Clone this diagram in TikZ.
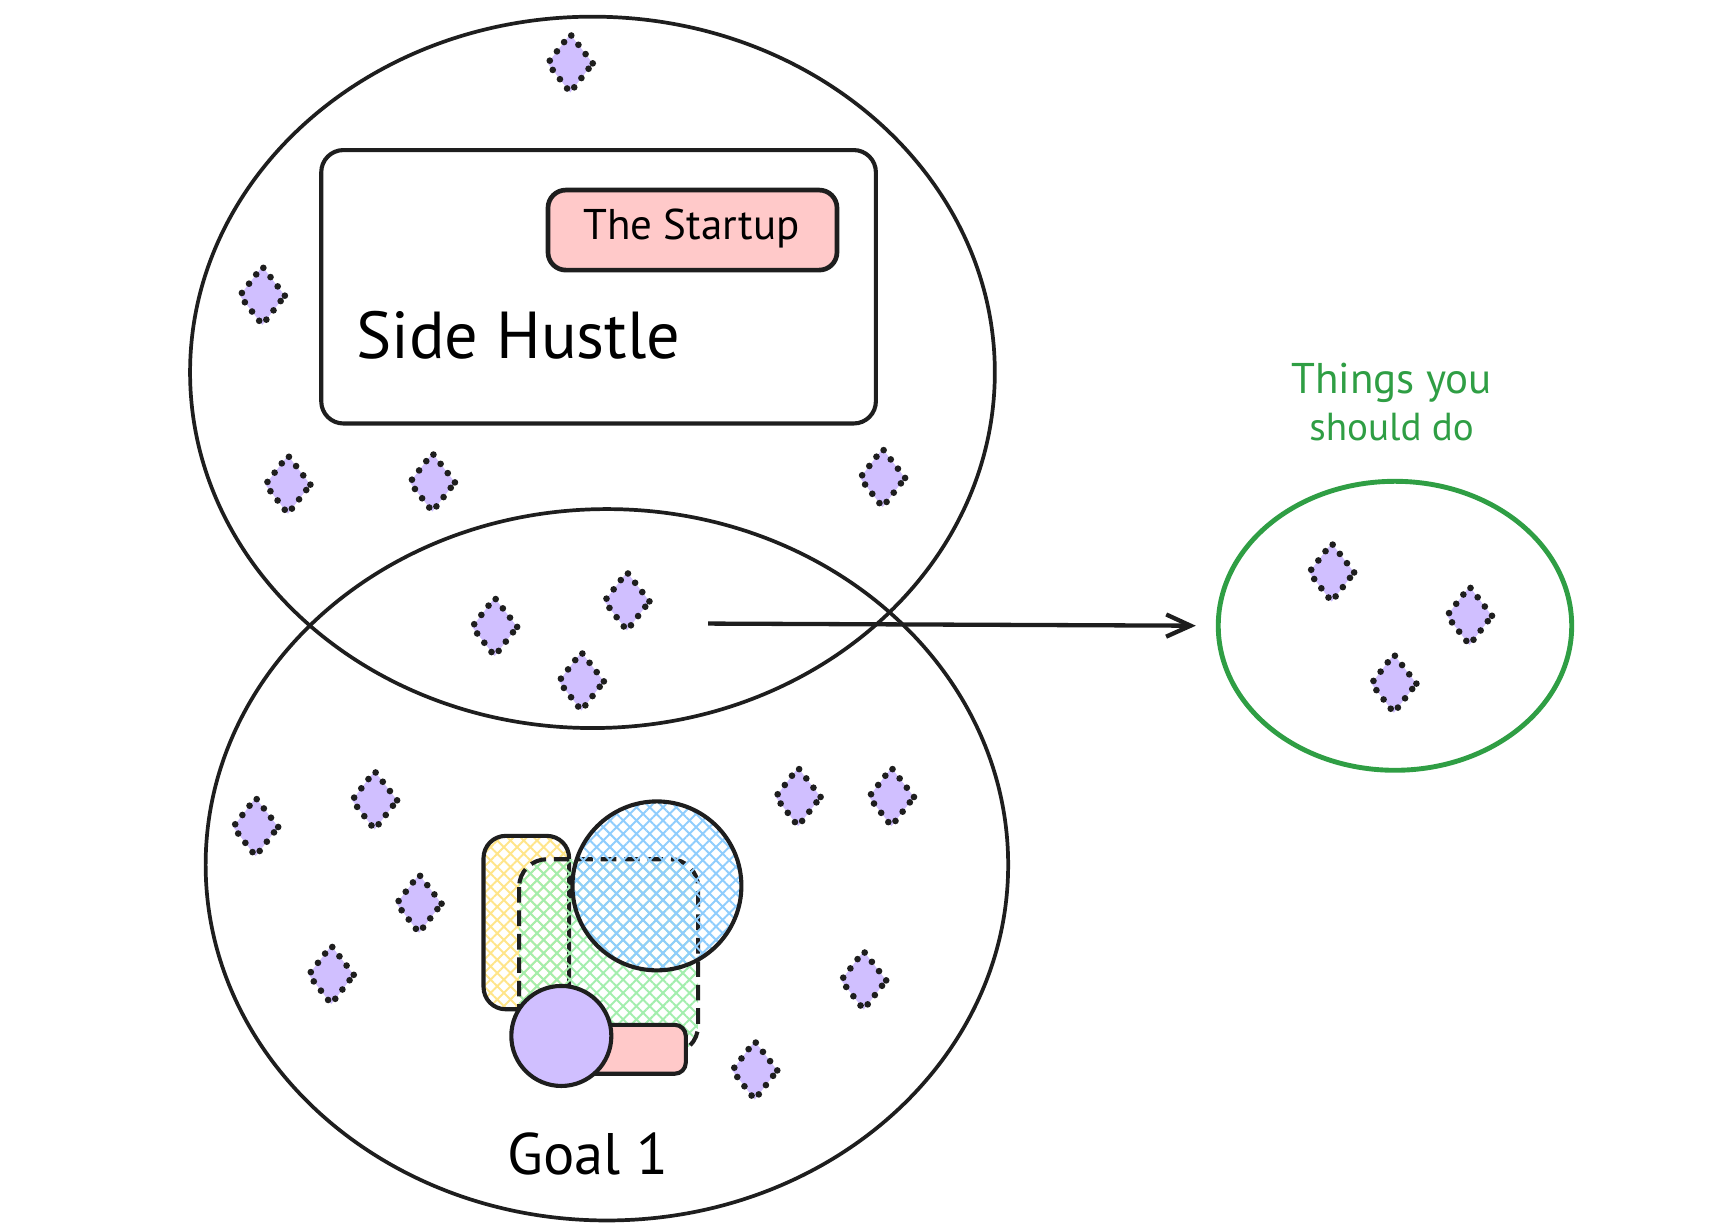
\documentclass[tikz,border=0pt]{standalone}
\usepackage{fontspec}
\setmainfont{PT Sans}
\usepackage{tikz}
\usetikzlibrary{calc}
\usetikzlibrary{shapes.geometric}
\usetikzlibrary{patterns.meta}
\usetikzlibrary{arrows.meta}

\definecolor{ink}{HTML}{1E1E1E}
\definecolor{lilac}{HTML}{D0BFFF}
\definecolor{blush}{HTML}{FFC9C9}
\definecolor{leaf}{HTML}{2F9E44}
\definecolor{butter}{HTML}{FFE58A}
\definecolor{mint}{HTML}{A3EEAE}
\definecolor{sky}{HTML}{8FCDFD}

\tikzset{
  task/.style={diamond,fill=lilac,draw=ink,line width=1.7pt,dash pattern=on 0pt off 3pt,line cap=round,
               minimum width=4.3mm,minimum height=5.5mm,inner sep=0pt},
  hatch/.style={pattern={Hatch[angle=45,distance=2.4pt,line width=0.5pt]},pattern color=#1}
}

\begin{document}
\begin{tikzpicture}[x=0.1mm,y=-0.1mm]
\useasboundingbox (0,0) rectangle (1560,1108);

\def\lw{0.95pt}
\def\lwbox{1.05pt}

% big circles
\draw[color=ink,line width=\lw] (533,335) ellipse (362 and 320);
\draw[color=ink,line width=\lw] (546,778) ellipse (361 and 320);

% side hustle box
\draw[color=ink,line width=\lwbox,rounded corners=2mm] (289,135) rectangle (788,381);
\draw[color=ink,fill=blush,line width=1.2pt,rounded corners=1.6mm] (493,171) rectangle (753,243);
\node (startup) at (622,206) {\fontsize{11}{13}\selectfont The Startup};
\node[anchor=west] (hustle) at (308,302) {\fontsize{17}{20}\selectfont Side Hustle};

% goal cluster
\draw[color=ink,line width=\lwbox,rounded corners=2mm,hatch=butter] (435,752) rectangle (512,908);
\draw[color=ink,line width=\lwbox,rounded corners=2.5mm,hatch=mint,dash pattern=on 4pt off 2pt] (467,773) rectangle (628,948);
\draw[color=ink,line width=\lwbox,hatch=sky] (591,797) circle (76);
\draw[color=ink,fill=blush,line width=\lwbox,rounded corners=1mm] (522,922) rectangle (617,966);
\draw[color=ink,fill=lilac,line width=\lwbox] (505,932) circle (45);
\node (goal) at (529,1038) {\fontsize{15}{18}\selectfont Goal 1};

% things to do
\node[ellipse,draw=leaf,line width=1.25pt,minimum width=31.8mm,minimum height=26mm,inner sep=0pt] (todo) at (1255,563) {};
\node[align=center,text=leaf] (todolabel) at (1252,362) {\fontsize{11}{11.5}\selectfont Things you\\ should do};
\coordinate (overlap) at (637,561);
\draw[color=ink,line width=1.1pt,-{Straight Barb[length=2.2mm,width=2mm]},shorten >=1.8mm] (overlap) -- (todo.west);

% tasks, top circle
\node[task] (a1) at (513,57) {};
\node[task] (a2) at (236,266) {};
\node[task] (a3) at (259,436) {};
\node[task] (a4) at (389,434) {};
\node[task] (a5) at (794,430) {};
% tasks, overlap
\node[task] (b1) at (564,541) {};
\node[task] (b2) at (445,564) {};
\node[task] (b3) at (523,613) {};
% tasks, bottom circle
\node[task] (c1) at (230,744) {};
\node[task] (c2) at (337,720) {};
\node[task] (c3) at (377,813) {};
\node[task] (c4) at (298,877) {};
\node[task] (c5) at (718,717) {};
\node[task] (c6) at (802,717) {};
\node[task] (c7) at (777,882) {};
\node[task] (c8) at (679,963) {};
% tasks, green circle
\node[task] (d1) at (1198,515) {};
\node[task] (d2) at (1322,554) {};
\node[task] (d3) at (1254,615) {};

\end{tikzpicture}
\end{document}
